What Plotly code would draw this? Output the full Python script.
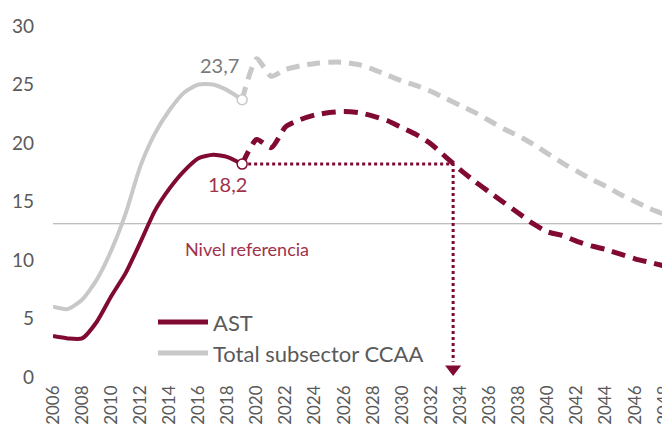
import plotly.graph_objects as go

# ---------------- data ----------------
hist_years = list(range(2006, 2020))
proj_years = list(range(2019, 2050))

ast_hist = [3.5, 3.3, 3.3, 4.7, 6.9, 8.9, 11.5, 14.2, 16.1, 17.6, 18.7, 19.0, 18.8, 18.2]
ccaa_hist = [6.0, 5.8, 6.6, 8.3, 10.8, 14.0, 18.0, 20.8, 22.8, 24.3, 25.0, 25.0, 24.5, 23.7]

ast_proj = [18.2, 20.3, 19.6, 21.4, 22.0, 22.4, 22.6, 22.7, 22.6, 22.3, 21.9, 21.3, 20.7,
            19.9, 18.8, 17.7, 16.7, 15.8, 14.9, 14.0, 13.1, 12.4, 12.1, 11.6, 11.2, 10.9,
            10.5, 10.1, 9.8, 9.5, 9.2]
ccaa_proj = [23.7, 27.2, 25.7, 26.3, 26.6, 26.8, 26.9, 26.9, 26.7, 26.3, 25.8, 25.3, 24.9,
             24.4, 23.8, 23.2, 22.6, 21.9, 21.2, 20.6, 19.9, 19.1, 18.3, 17.6, 16.9, 16.3,
             15.6, 15.0, 14.4, 13.9, 13.3]

ref_level = 13.1
ref_label = "Nivel referencia"
ref_label_year = 2019.3
arrow_year = 2033.5
arrow_bottom = 1.3
arrow_head = 0.68
last_year = 2019

series_names = ["AST", "Total subsector CCAA"]
tick_years = list(range(2006, 2049, 2))
y_ticks = [0, 5, 10, 15, 20, 25, 30]

# ---------------- styles ----------------
MAROON = "#800A32"
MAROON_TXT = "#A0324B"
GREY = "#C8C8C8"
TXT = "#5A5A5A"
FONT = "Lato"

# the page body has an 8px default margin, so lay out relative to it
PAGE_OFF = 8
W, H = 670, 444
L, R, T, B = 45, 0, 18, 75
pw, ph = W - L - R, H - T - B
PX_PER_YEAR = 14.55

fig = go.Figure()

# grey series
fig.add_trace(go.Scatter(x=hist_years, y=ccaa_hist, mode="lines",
                         line=dict(color=GREY, width=4, shape="spline", smoothing=0.6),
                         showlegend=False, hoverinfo="skip"))
fig.add_trace(go.Scatter(x=proj_years, y=ccaa_proj, mode="lines",
                         line=dict(color=GREY, width=5, dash="13px,8px", shape="spline", smoothing=0.6),
                         showlegend=False, hoverinfo="skip"))
# AST series
fig.add_trace(go.Scatter(x=hist_years, y=ast_hist, mode="lines",
                         line=dict(color=MAROON, width=4, shape="spline", smoothing=0.6),
                         showlegend=False, hoverinfo="skip"))
fig.add_trace(go.Scatter(x=proj_years, y=ast_proj, mode="lines",
                         line=dict(color=MAROON, width=5, dash="14px,8px", shape="spline", smoothing=0.6),
                         showlegend=False, hoverinfo="skip"))

# dotted guide
fig.add_trace(go.Scatter(x=[last_year, arrow_year, arrow_year],
                         y=[ast_hist[-1], ast_hist[-1], arrow_bottom], mode="lines",
                         line=dict(color=MAROON, width=3, dash="3px,3px"),
                         showlegend=False, hoverinfo="skip"))
fig.add_trace(go.Scatter(x=[arrow_year], y=[arrow_head], mode="markers",
                         marker=dict(symbol="triangle-down", size=14, color=MAROON),
                         cliponaxis=False, showlegend=False, hoverinfo="skip"))

# open circles at last observed point
fig.add_trace(go.Scatter(x=[last_year, last_year], y=[ccaa_hist[-1], ast_hist[-1]], mode="markers",
                         marker=dict(symbol="circle", size=10, color="white",
                                     line=dict(color=[GREY, MAROON], width=1.5)),
                         cliponaxis=False, showlegend=False, hoverinfo="skip"))

# reference line
fig.add_shape(type="line", xref="paper", x0=0, x1=1, yref="y", y0=ref_level, y1=ref_level,
              line=dict(color="#A8A8A8", width=1.2), layer="below")

def fmt(v):
    return f"{v:.1f}".replace(".", ",")

fig.add_annotation(x=last_year, y=ccaa_hist[-1], text=fmt(ccaa_hist[-1]), showarrow=False,
                   xanchor="right", yanchor="bottom", xshift=-1, yshift=21,
                   font=dict(family=FONT, size=20, color="#7A7A7A"))
fig.add_annotation(x=last_year, y=ast_hist[-1], text=fmt(ast_hist[-1]), showarrow=False,
                   xanchor="right", yanchor="top", xshift=7, yshift=-6,
                   font=dict(family=FONT, size=20, color=MAROON_TXT))
fig.add_annotation(x=ref_label_year, y=ref_level, text=ref_label, showarrow=False,
                   xanchor="center", yanchor="middle", yshift=-25,
                   font=dict(family=FONT, size=18, color=MAROON_TXT))

# custom legend (positions given in window pixels)
def px_to_paper_x(px):
    return (px - PAGE_OFF - L) / pw
def px_to_paper_y(py):
    return (H - B - (py - PAGE_OFF)) / ph

legend_rows = [(series_names[0], MAROON, 322), (series_names[1], GREY, 353)]
for name, col, py in legend_rows:
    yy = px_to_paper_y(py)
    fig.add_shape(type="line", xref="paper", yref="paper",
                  x0=px_to_paper_x(158), x1=px_to_paper_x(208), y0=yy, y1=yy,
                  line=dict(color=col, width=5))
    fig.add_annotation(xref="paper", yref="paper", x=px_to_paper_x(211), y=yy, text=name,
                       showarrow=False, xanchor="left", yanchor="middle",
                       font=dict(family=FONT, size=22, color=TXT))

fig.update_layout(
    width=W, height=H,
    margin=dict(l=L, r=R, t=T, b=B, autoexpand=False),
    paper_bgcolor="white", plot_bgcolor="white",
    font=dict(family=FONT, color=TXT),
    showlegend=False,
    xaxis=dict(range=[2006, 2006 + pw / PX_PER_YEAR], tickvals=tick_years,
               ticktext=[str(y) for y in tick_years], tickangle=-90,
               showgrid=False, zeroline=False, showline=False, ticks="", automargin=False,
               tickfont=dict(family=FONT, size=17, color=TXT), ticklabelstandoff=4),
    yaxis=dict(range=[0, 30], tickvals=y_ticks, showgrid=False, zeroline=False,
               showline=False, ticks="", automargin=False,
               tickfont=dict(family=FONT, size=19, color=TXT), ticklabelstandoff=18),
)

fig.write_html("out.html")
